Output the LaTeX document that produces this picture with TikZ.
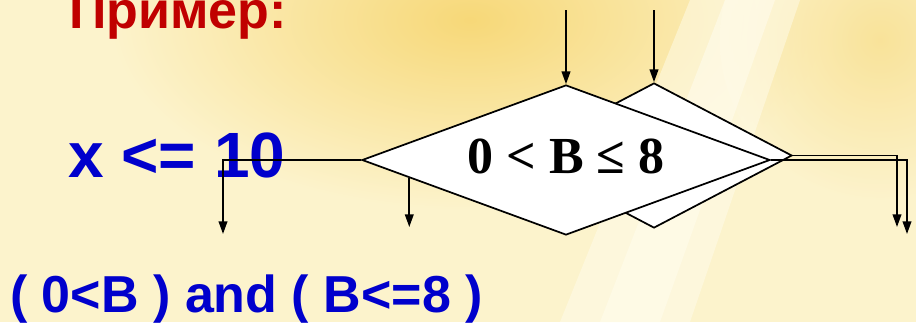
\documentclass[tikz,border=0pt]{standalone}
\usepackage{fontspec}
\setmainfont{Liberation Serif}
\newfontfamily\arial{Liberation Sans}
\usetikzlibrary{positioning,calc,shapes.geometric,arrows.meta}
\definecolor{titlered}{RGB}{192,0,0}
\definecolor{textblue}{RGB}{0,0,204}
\definecolor{bgcream}{RGB}{252,243,204}
\definecolor{bgyellow}{RGB}{247,216,120}
\definecolor{bglight}{RGB}{255,252,236}

\begin{document}
\begin{tikzpicture}[x=0.75pt,y=-0.75pt,
  box/.style={draw,diamond,fill=white,line width=1.3pt,inner sep=0pt},
  arr/.style={-{Triangle[length=9.5pt,width=6.5pt]},line width=1.3pt},
  big/.style={anchor=base west,inner sep=0pt,font=\arial\bfseries\fontsize{#1}{#1}\selectfont}]
  \useasboundingbox (0,0) rectangle (916,322);
  \clip (0,0) rectangle (916,322);
  % background
  \fill[bgcream] (0,0) rectangle (916,322);
  \shade[inner color=bgyellow,outer color=bgcream] (470,20) ellipse (360 and 190);
  \shade[inner color=bgyellow,outer color=bgcream,opacity=.6] (880,40) ellipse (160 and 160);
  \fill[bglight,opacity=.5] (690,0) -- (800,0) -- (690,322) -- (560,322) -- cycle;
  \fill[bglight,opacity=.6] (725,0) -- (775,0) -- (660,322) -- (600,322) -- cycle;
  % texts
  \node[big=39,text=titlered] (t0) at (69,28) {Пример:};
  \node[big=48,text=textblue] (t1) at (68,177) {x <= 10};
  \node[big=39,text=textblue] (t2) at (10,312) {( 0<B ) and ( B<=8 )};
  % diamonds
  \node[box,minimum width=207pt,minimum height=108.75pt] (d1) at (654,155.5) {};
  \node[box,minimum width=306pt,minimum height=112.5pt] (d0) at (566,160) {};
  \node[inner sep=0pt,anchor=base,font=\bfseries\fontsize{39}{39}\selectfont] (t3) at (566,173) {0 < B ≤ 8};
  % connectors
  \coordinate (s0) at (566,10);
  \coordinate (s1) at (654,10);
  \coordinate (b0) at ($(d0.west)!0.235!(d0.south)$);
  \coordinate (e0) at (223,234);
  \coordinate (e1) at (b0 |- 0,227);
  \coordinate (e2) at (897,227);
  \coordinate (e3) at (907,234);
  \path[arr] (s0) edge (d0.north) (s1) edge (d1.north) (b0) edge (e1);
  \draw[arr] (d0.west) -| (e0);
  \draw[arr] (d1.east) -| (e2);
  \draw[arr] (d0.east) -| (e3);
\end{tikzpicture}
\end{document}
